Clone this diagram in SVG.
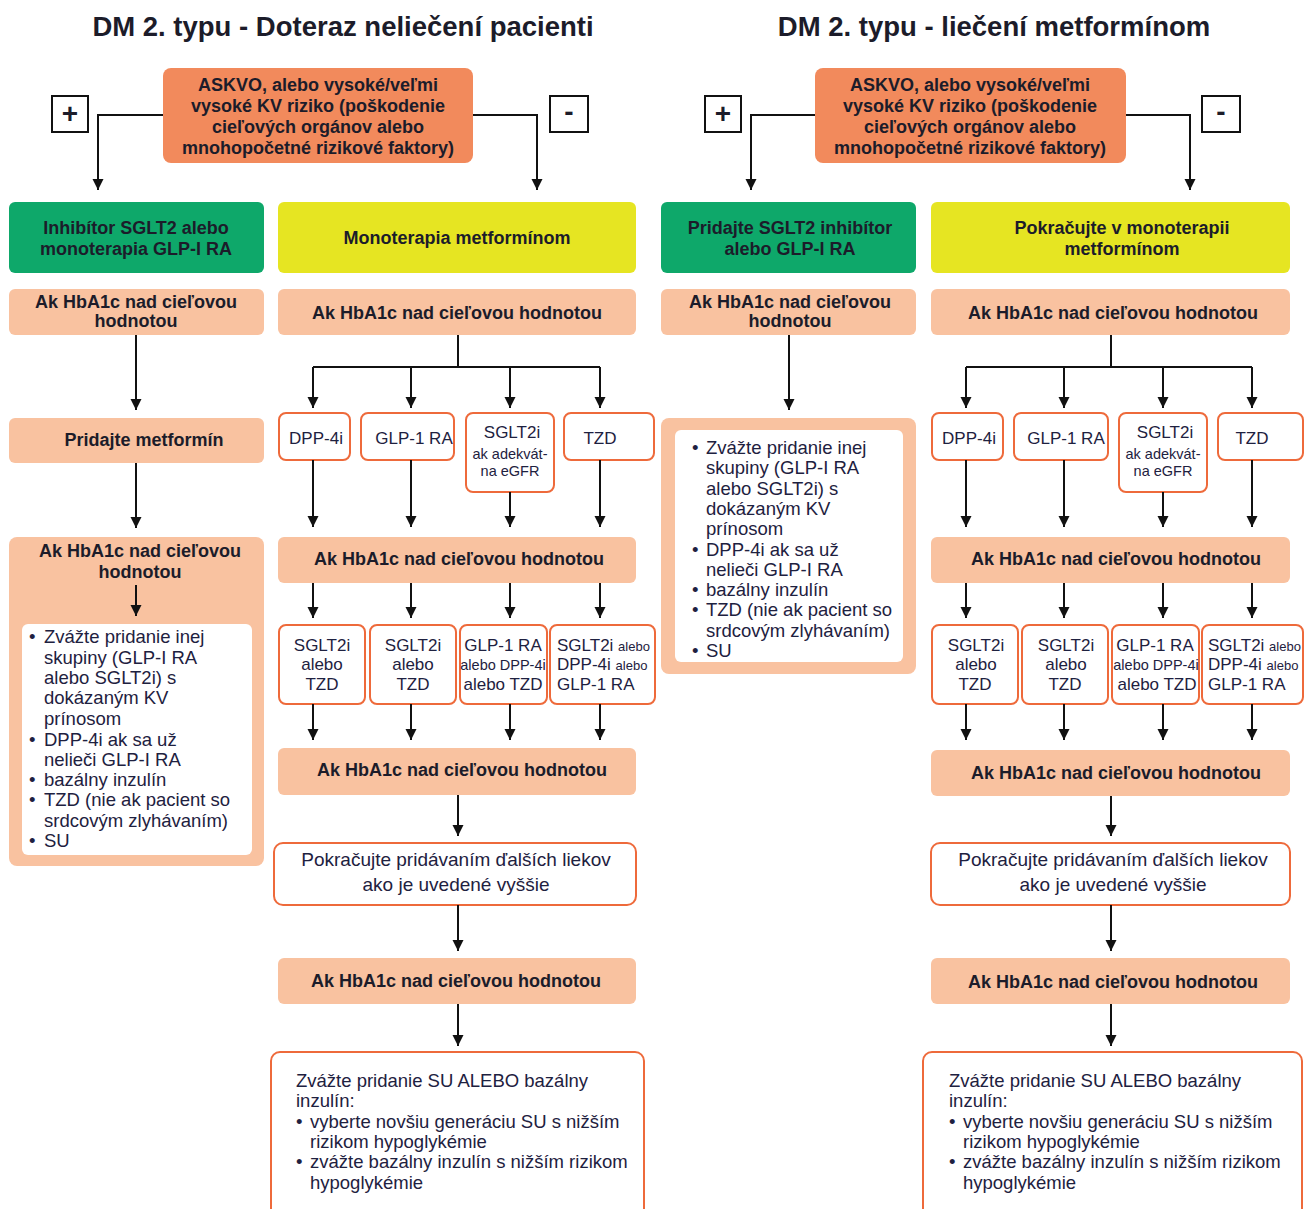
<svg xmlns="http://www.w3.org/2000/svg" width="1313" height="1209" viewBox="0 0 1313 1209">
<style>
text{font-family:"Liberation Sans",Arial,sans-serif;fill:#1c1c2a}
.title{font-size:27.5px;font-weight:bold;text-anchor:middle}
.b{font-size:18px;font-weight:bold;text-anchor:middle}
.m{font-size:17px;text-anchor:middle;fill:#1e2140}
.mm{font-size:19px;text-anchor:middle;fill:#1e2140}
.s{font-size:14.5px;text-anchor:middle;fill:#1e2140}
.l{font-size:18.5px;fill:#1e2140}
.ask{fill:#f28a5c}
.green{fill:#0ea86a}
.yellow{fill:#e6e522}
.peach{fill:#f9c2a0}
.wbox{fill:#fff;stroke:#ee6a3b;stroke-width:2}
.pm{fill:#fff;stroke:#111;stroke-width:2}
.c{fill:none;stroke:#111;stroke-width:2;marker-end:url(#ah)}
.c0{fill:none;stroke:#111;stroke-width:2}
</style>
<defs>
<marker id="ah" markerUnits="userSpaceOnUse" markerWidth="12" markerHeight="12" refX="11" refY="6" orient="auto">
<path d="M0,0.5 L11,6 L0,11.5 z" fill="#111"/>
</marker>
</defs>
<rect width="1313" height="1209" fill="#fff"/>

<g id="titles">
<text class="title" x="343" y="36">DM 2. typu - Doteraz neliečení pacienti</text>
<text class="title" x="994" y="36">DM 2. typu - liečení metformínom</text>
</g>

<!-- LEFT HALF -->
<g id="L-ask">
<rect class="ask" x="163" y="68" width="310" height="95" rx="8"/>
<text class="b" x="318" y="91">ASKVO, alebo vysoké/veľmi</text>
<text class="b" x="318" y="112">vysoké KV riziko (poškodenie</text>
<text class="b" x="318" y="133">cieľových orgánov alebo</text>
<text class="b" x="318" y="154">mnohopočetné rizikové faktory)</text>
</g>
<g id="L-plus"><rect class="pm" x="52" y="96" width="36" height="36"/><text x="70" y="123" style="font-size:28px;font-weight:bold;text-anchor:middle">+</text></g>
<g id="L-minus"><rect class="pm" x="550" y="96" width="38" height="36"/><text x="569" y="121" style="font-size:28px;font-weight:bold;text-anchor:middle">-</text></g>

<g id="L-green"><rect class="green" x="9" y="202" width="255" height="71" rx="6"/>
<text class="b" x="136" y="234">Inhibítor SGLT2 alebo</text>
<text class="b" x="136" y="255">monoterapia GLP-I RA</text></g>
<g id="L-yellow"><rect class="yellow" x="278" y="202" width="358" height="71" rx="6"/>
<text class="b" x="457" y="244">Monoterapia metformínom</text></g>

<g id="L-hb1"><rect class="peach" x="9" y="289" width="255" height="46" rx="6"/>
<text class="b" x="136" y="308">Ak HbA1c nad cieľovou</text>
<text class="b" x="136" y="327">hodnotou</text></g>
<g id="L-hb2"><rect class="peach" x="278" y="289" width="358" height="46" rx="6"/>
<text class="b" x="457" y="319">Ak HbA1c nad cieľovou hodnotou</text></g>

<g id="L-met"><rect class="peach" x="9" y="418" width="255" height="45" rx="6"/>
<text class="b" x="144" y="446">Pridajte metformín</text></g>

<g id="L-big"><rect class="peach" x="9" y="537" width="255" height="329" rx="8"/>
<text class="b" x="140" y="557">Ak HbA1c nad cieľovou</text>
<text class="b" x="140" y="578">hodnotou</text>
<rect x="22" y="624" width="230" height="231" rx="6" fill="#fff"/>
<text class="l" x="29" y="643">•</text><text class="l" x="44" y="643">Zvážte pridanie inej</text>
<text class="l" x="44" y="664">skupiny (GLP-I RA</text>
<text class="l" x="44" y="684">alebo SGLT2i) s</text>
<text class="l" x="44" y="704">dokázaným KV</text>
<text class="l" x="44" y="725">prínosom</text>
<text class="l" x="29" y="746">•</text><text class="l" x="44" y="746">DPP-4i ak sa už</text>
<text class="l" x="44" y="766">nelieči GLP-I RA</text>
<text class="l" x="29" y="786">•</text><text class="l" x="44" y="786">bazálny inzulín</text>
<text class="l" x="29" y="806">•</text><text class="l" x="44" y="806">TZD (nie ak pacient so</text>
<text class="l" x="44" y="827">srdcovým zlyhávaním)</text>
<text class="l" x="29" y="847">•</text><text class="l" x="44" y="847">SU</text>
</g>

<g id="L-dpp"><rect class="wbox" x="279" y="413" width="71" height="47" rx="7"/><text class="m" x="316" y="444">DPP-4i</text></g>
<g id="L-glp"><rect class="wbox" x="361" y="413" width="93" height="47" rx="7"/><text class="m" x="414" y="444">GLP-1 RA</text></g>
<g id="L-sglt"><rect class="wbox" x="466" y="413" width="88" height="79" rx="7"/><text class="m" x="512" y="438">SGLT2i</text>
<text class="s" x="510" y="459">ak adekvát-</text><text class="s" x="510" y="476">na eGFR</text></g>
<g id="L-tzd"><rect class="wbox" x="564" y="413" width="90" height="47" rx="7"/><text class="m" x="600" y="444">TZD</text></g>

<g id="L-hb3"><rect class="peach" x="278" y="537" width="358" height="46" rx="6"/>
<text class="b" x="459" y="565">Ak HbA1c nad cieľovou hodnotou</text></g>

<g id="L-r1"><rect class="wbox" x="279" y="625" width="86" height="79" rx="7"/>
<text class="m" x="322" y="651">SGLT2i</text><text class="m" x="322" y="670">alebo</text><text class="m" x="322" y="690">TZD</text></g>
<g id="L-r2"><rect class="wbox" x="370" y="625" width="86" height="79" rx="7"/>
<text class="m" x="413" y="651">SGLT2i</text><text class="m" x="413" y="670">alebo</text><text class="m" x="413" y="690">TZD</text></g>
<g id="L-r3"><rect class="wbox" x="460" y="625" width="87" height="79" rx="7"/>
<text class="m" x="503" y="651">GLP-1 RA</text><text class="s" x="503" y="670">alebo DPP-4i</text><text class="m" x="503" y="690">alebo TZD</text></g>
<g id="L-r4"><rect class="wbox" x="550" y="625" width="105" height="79" rx="7"/>
<text class="m" x="557" y="651" style="text-anchor:start">SGLT2i <tspan style="font-size:13px">alebo</tspan></text>
<text class="m" x="557" y="670" style="text-anchor:start">DPP-4i <tspan style="font-size:13px">alebo</tspan></text>
<text class="m" x="557" y="690" style="text-anchor:start">GLP-1 RA</text></g>

<g id="L-hb4"><rect class="peach" x="278" y="748" width="358" height="47" rx="6"/>
<text class="b" x="462" y="776">Ak HbA1c nad cieľovou hodnotou</text></g>

<g id="L-cont"><rect class="wbox" x="274" y="843" width="362" height="62" rx="9"/>
<text class="mm" x="456" y="866">Pokračujte pridávaním ďalších liekov</text>
<text class="mm" x="456" y="891">ako je uvedené vyššie</text></g>

<g id="L-hb5"><rect class="peach" x="278" y="958" width="358" height="46" rx="6"/>
<text class="b" x="456" y="987">Ak HbA1c nad cieľovou hodnotou</text></g>

<g id="L-su"><rect class="wbox" x="271" y="1052" width="373" height="170" rx="9"/>
<text class="l" x="296" y="1087">Zvážte pridanie SU ALEBO bazálny</text>
<text class="l" x="296" y="1107">inzulín:</text>
<text class="l" x="296" y="1128">•</text><text class="l" x="310" y="1128">vyberte novšiu generáciu SU s nižším</text>
<text class="l" x="310" y="1148">rizikom hypoglykémie</text>
<text class="l" x="296" y="1168">•</text><text class="l" x="310" y="1168">zvážte bazálny inzulín s nižším rizikom</text>
<text class="l" x="310" y="1189">hypoglykémie</text></g>

<!-- RIGHT HALF -->
<g id="R-ask">
<rect class="ask" x="815" y="68" width="311" height="95" rx="8"/>
<text class="b" x="970" y="91">ASKVO, alebo vysoké/veľmi</text>
<text class="b" x="970" y="112">vysoké KV riziko (poškodenie</text>
<text class="b" x="970" y="133">cieľových orgánov alebo</text>
<text class="b" x="970" y="154">mnohopočetné rizikové faktory)</text>
</g>
<g id="R-plus"><rect class="pm" x="705" y="96" width="36" height="36"/><text x="723" y="123" style="font-size:28px;font-weight:bold;text-anchor:middle">+</text></g>
<g id="R-minus"><rect class="pm" x="1202" y="96" width="38" height="36"/><text x="1221" y="121" style="font-size:28px;font-weight:bold;text-anchor:middle">-</text></g>

<g id="R-green"><rect class="green" x="661" y="202" width="255" height="71" rx="6"/>
<text class="b" x="790" y="234">Pridajte SGLT2 inhibítor</text>
<text class="b" x="790" y="255">alebo GLP-I RA</text></g>
<g id="R-yellow"><rect class="yellow" x="931" y="202" width="359" height="71" rx="6"/>
<text class="b" x="1122" y="234">Pokračujte v monoterapii</text>
<text class="b" x="1122" y="255">metformínom</text></g>

<g id="R-hb1"><rect class="peach" x="661" y="289" width="255" height="46" rx="6"/>
<text class="b" x="790" y="308">Ak HbA1c nad cieľovou</text>
<text class="b" x="790" y="327">hodnotou</text></g>
<g id="R-hb2"><rect class="peach" x="931" y="289" width="359" height="46" rx="6"/>
<text class="b" x="1113" y="319">Ak HbA1c nad cieľovou hodnotou</text></g>

<g id="R-big"><rect class="peach" x="661" y="418" width="255" height="256" rx="8"/>
<rect x="675" y="430" width="228" height="232" rx="6" fill="#fff"/>
<text class="l" x="692" y="454">•</text><text class="l" x="706" y="454">Zvážte pridanie inej</text>
<text class="l" x="706" y="474">skupiny (GLP-I RA</text>
<text class="l" x="706" y="495">alebo SGLT2i) s</text>
<text class="l" x="706" y="515">dokázaným KV</text>
<text class="l" x="706" y="535">prínosom</text>
<text class="l" x="692" y="556">•</text><text class="l" x="706" y="556">DPP-4i ak sa už</text>
<text class="l" x="706" y="576">nelieči GLP-I RA</text>
<text class="l" x="692" y="596">•</text><text class="l" x="706" y="596">bazálny inzulín</text>
<text class="l" x="692" y="616">•</text><text class="l" x="706" y="616">TZD (nie ak pacient so</text>
<text class="l" x="706" y="637">srdcovým zlyhávaním)</text>
<text class="l" x="692" y="657">•</text><text class="l" x="706" y="657">SU</text>
</g>

<g id="R-dpp"><rect class="wbox" x="932" y="413" width="71" height="47" rx="7"/><text class="m" x="969" y="444">DPP-4i</text></g>
<g id="R-glp"><rect class="wbox" x="1014" y="413" width="94" height="47" rx="7"/><text class="m" x="1066" y="444">GLP-1 RA</text></g>
<g id="R-sglt"><rect class="wbox" x="1119" y="413" width="88" height="79" rx="7"/><text class="m" x="1165" y="438">SGLT2i</text>
<text class="s" x="1163" y="459">ak adekvát-</text><text class="s" x="1163" y="476">na eGFR</text></g>
<g id="R-tzd"><rect class="wbox" x="1218" y="413" width="85" height="47" rx="7"/><text class="m" x="1252" y="444">TZD</text></g>

<g id="R-hb3"><rect class="peach" x="931" y="537" width="359" height="46" rx="6"/>
<text class="b" x="1116" y="565">Ak HbA1c nad cieľovou hodnotou</text></g>

<g id="R-r1"><rect class="wbox" x="932" y="625" width="86" height="79" rx="7"/>
<text class="m" x="976" y="651">SGLT2i</text><text class="m" x="976" y="670">alebo</text><text class="m" x="975" y="690">TZD</text></g>
<g id="R-r2"><rect class="wbox" x="1022" y="625" width="86" height="79" rx="7"/>
<text class="m" x="1066" y="651">SGLT2i</text><text class="m" x="1066" y="670">alebo</text><text class="m" x="1065" y="690">TZD</text></g>
<g id="R-r3"><rect class="wbox" x="1112" y="625" width="87" height="79" rx="7"/>
<text class="m" x="1155" y="651">GLP-1 RA</text><text class="s" x="1156" y="670">alebo DPP-4i</text><text class="m" x="1157" y="690">alebo TZD</text></g>
<g id="R-r4"><rect class="wbox" x="1202" y="625" width="101" height="79" rx="7"/>
<text class="m" x="1208" y="651" style="text-anchor:start">SGLT2i <tspan style="font-size:13px">alebo</tspan></text>
<text class="m" x="1208" y="670" style="text-anchor:start">DPP-4i <tspan style="font-size:13px">alebo</tspan></text>
<text class="m" x="1208" y="690" style="text-anchor:start">GLP-1 RA</text></g>

<g id="R-hb4"><rect class="peach" x="931" y="750" width="359" height="46" rx="6"/>
<text class="b" x="1116" y="779">Ak HbA1c nad cieľovou hodnotou</text></g>

<g id="R-cont"><rect class="wbox" x="931" y="843" width="359" height="62" rx="9"/>
<text class="mm" x="1113" y="866">Pokračujte pridávaním ďalších liekov</text>
<text class="mm" x="1113" y="891">ako je uvedené vyššie</text></g>

<g id="R-hb5"><rect class="peach" x="931" y="958" width="359" height="46" rx="6"/>
<text class="b" x="1113" y="988">Ak HbA1c nad cieľovou hodnotou</text></g>

<g id="R-su"><rect class="wbox" x="923" y="1052" width="379" height="170" rx="9"/>
<text class="l" x="949" y="1087">Zvážte pridanie SU ALEBO bazálny</text>
<text class="l" x="949" y="1107">inzulín:</text>
<text class="l" x="949" y="1128">•</text><text class="l" x="963" y="1128">vyberte novšiu generáciu SU s nižším</text>
<text class="l" x="963" y="1148">rizikom hypoglykémie</text>
<text class="l" x="949" y="1168">•</text><text class="l" x="963" y="1168">zvážte bazálny inzulín s nižším rizikom</text>
<text class="l" x="963" y="1189">hypoglykémie</text></g>

<g id="connectors">
<!-- left side -->
<path class="c" d="M163,115 H98 V190"/>
<path class="c" d="M473,115 H537 V190"/>
<path class="c" d="M136,335 V410"/>
<path class="c" d="M136,463 V528"/>
<path class="c" d="M136,585 V616"/>
<path class="c0" d="M458,335 V367 M313,367 H600"/>
<path class="c" d="M313,367 V408"/>
<path class="c" d="M411,367 V408"/>
<path class="c" d="M510,367 V408"/>
<path class="c" d="M600,367 V408"/>
<path class="c" d="M313,460 V527"/>
<path class="c" d="M411,460 V527"/>
<path class="c" d="M510,492 V527"/>
<path class="c" d="M600,460 V527"/>
<path class="c" d="M313,583 V618"/>
<path class="c" d="M411,583 V618"/>
<path class="c" d="M510,583 V618"/>
<path class="c" d="M600,583 V618"/>
<path class="c" d="M313,704 V740"/>
<path class="c" d="M411,704 V740"/>
<path class="c" d="M510,704 V740"/>
<path class="c" d="M600,704 V740"/>
<path class="c" d="M458,795 V836"/>
<path class="c" d="M458,905 V951"/>
<path class="c" d="M458,1004 V1046"/>
<!-- right side -->
<path class="c" d="M815,115 H751 V190"/>
<path class="c" d="M1126,115 H1190 V190"/>
<path class="c" d="M789,335 V410"/>
<path class="c0" d="M1111,335 V367 M966,367 H1252"/>
<path class="c" d="M966,367 V408"/>
<path class="c" d="M1064,367 V408"/>
<path class="c" d="M1163,367 V408"/>
<path class="c" d="M1252,367 V408"/>
<path class="c" d="M966,460 V527"/>
<path class="c" d="M1064,460 V527"/>
<path class="c" d="M1163,492 V527"/>
<path class="c" d="M1252,460 V527"/>
<path class="c" d="M966,583 V618"/>
<path class="c" d="M1064,583 V618"/>
<path class="c" d="M1163,583 V618"/>
<path class="c" d="M1252,583 V618"/>
<path class="c" d="M966,704 V740"/>
<path class="c" d="M1064,704 V740"/>
<path class="c" d="M1163,704 V740"/>
<path class="c" d="M1252,704 V740"/>
<path class="c" d="M1111,796 V836"/>
<path class="c" d="M1111,905 V951"/>
<path class="c" d="M1111,1004 V1046"/>
</g>
</svg>
